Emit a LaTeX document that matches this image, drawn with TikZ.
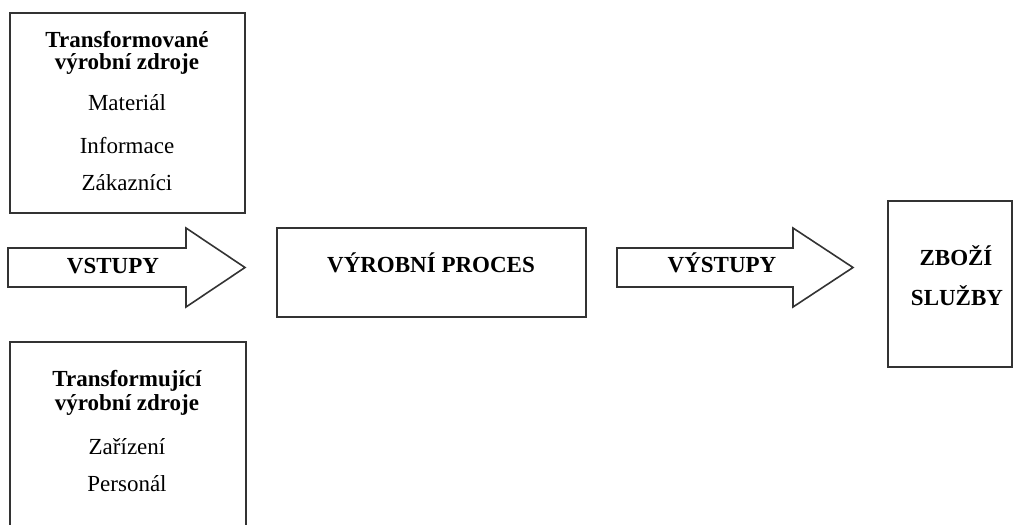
\documentclass[tikz,border=0pt]{standalone}
\usepackage{fontspec}
\setmainfont{Liberation Serif}

\begin{document}
\begin{tikzpicture}
	[x=0.5pt,y=-0.5pt,
	box/.style={draw=black!80,line width=0.8pt},
	bigarrow/.style={draw=black!80,line width=0.8pt,line join=miter},
	head/.style={font=\fontsize{11.5}{14}\selectfont\bfseries,anchor=base},
	item/.style={font=\fontsize{11.5}{14}\selectfont,anchor=base}]
	\useasboundingbox (0,0) rectangle (1013,525);
	\clip (0,0) rectangle (1013,525);
	% boxes
	\draw[box] (10,13) rectangle (245,213);
	\draw[box] (10,342) rectangle (246,545);
	\draw[box] (277,228) rectangle (586,317);
	\draw[box] (888,201) rectangle (1012,367);
	% block arrows
	\draw[bigarrow] (8,248) -- (186,248) -- (186,228) -- (245,267.5) -- (186,307) -- (186,287) -- (8,287) -- cycle;
	\draw[bigarrow] (617,248) -- (793,248) -- (793,228) -- (853,267.5) -- (793,307) -- (793,287) -- (617,287) -- cycle;
	% inputs (top)
	\node[head] (tvz1) at (127,47) {Transformované};
	\node[head] (tvz2) at (127,69) {výrobní zdroje};
	\node[item] (mat) at (127,110) {Materiál};
	\node[item] (inf) at (127,153) {Informace};
	\node[item] (zak) at (127,190) {Zákazníci};
	% inputs (bottom)
	\node[head] (tjz1) at (127,386) {Transformující};
	\node[head] (tjz2) at (127,410) {výrobní zdroje};
	\node[item] (zar) at (127,454) {Zařízení};
	\node[item] (per) at (127,491) {Personál};
	% flow
	\node[head] (vst) at (113,273) {VSTUPY};
	\node[head] (proc) at (431,272) {VÝROBNÍ PROCES};
	\node[head] (vyst) at (722,272) {VÝSTUPY};
	\node[head] (zbo) at (956,265) {ZBOŽÍ};
	\node[head] (slu) at (957,305) {SLUŽBY};
\end{tikzpicture}
\end{document}
